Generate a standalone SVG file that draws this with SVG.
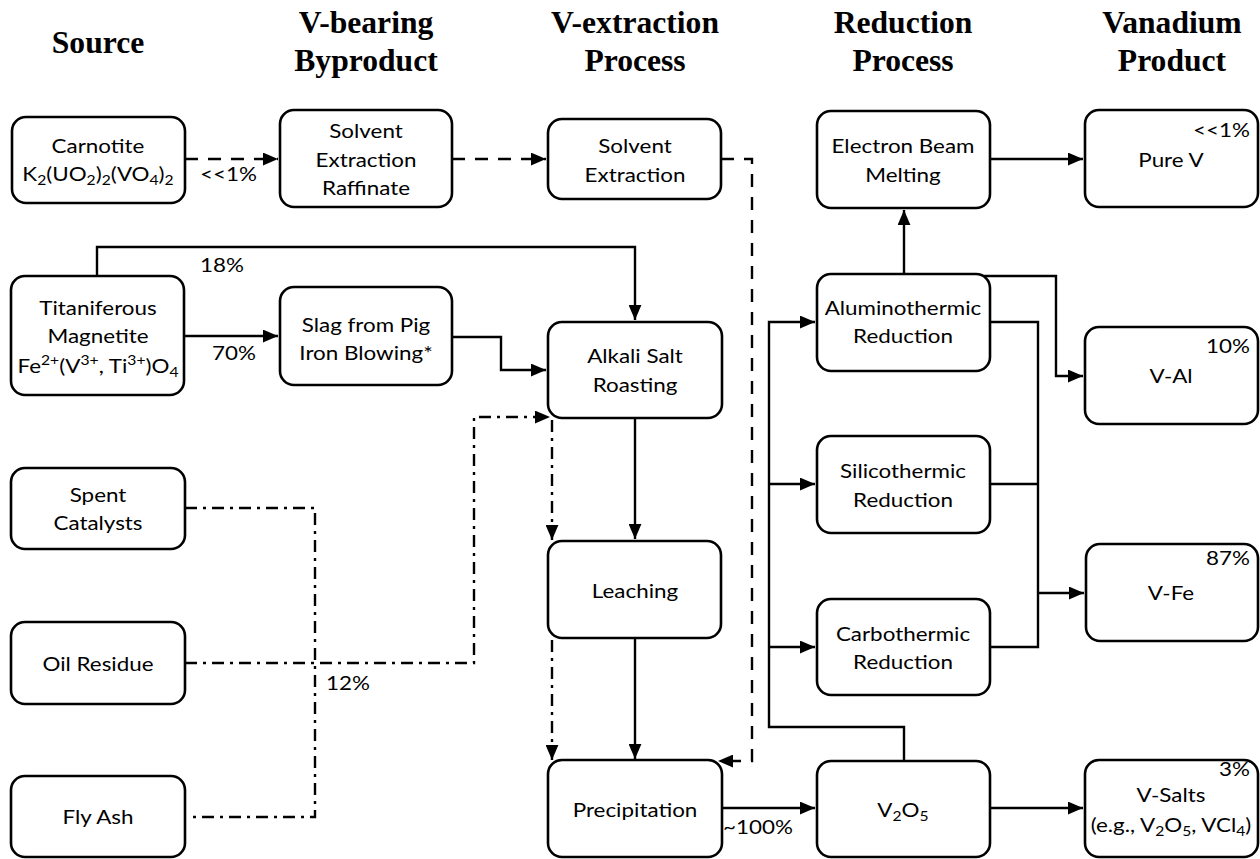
<svg xmlns="http://www.w3.org/2000/svg" width="1260" height="859" viewBox="0 0 1260 859">
<defs>
<style>
.box{fill:#fff;stroke:#000;stroke-width:2.6}
.t{font-family:Lato,"Liberation Sans",sans-serif;font-size:20px;text-anchor:middle;fill:#000}
.l{font-family:Lato,"Liberation Sans",sans-serif;font-size:20px;fill:#000}
.h{font-family:"Liberation Serif","Times New Roman",serif;font-size:31px;font-weight:bold;text-anchor:middle;fill:#000}
.c{fill:none;stroke:#000;stroke-width:2.4}
.dash{stroke-dasharray:13 10}
.dd{stroke-dasharray:12 6 3 6}
</style>
<marker id="ah" viewBox="0 0 14 12" refX="14" refY="6" markerWidth="15" markerHeight="13" markerUnits="userSpaceOnUse" orient="auto"><path d="M0,0L14,6L0,12z" fill="#000"/></marker>
</defs>
<rect width="1260" height="859" fill="#fff"/>

<g id="headers">
<text class="h" transform="translate(98,0) scale(1.02,1)"><tspan x="0" y="53">Source</tspan></text>
<text class="h" transform="translate(366,0) scale(1.02,1)"><tspan x="0" y="33">V-bearing</tspan><tspan x="0" y="71">Byproduct</tspan></text>
<text class="h" transform="translate(635,0) scale(1.02,1)"><tspan x="0" y="33">V-extraction</tspan><tspan x="0" y="71">Process</tspan></text>
<text class="h" transform="translate(903,0) scale(1.02,1)"><tspan x="0" y="33">Reduction</tspan><tspan x="0" y="71">Process</tspan></text>
<text class="h" transform="translate(1172,0) scale(1.02,1)"><tspan x="0" y="33">Vanadium</tspan><tspan x="0" y="71">Product</tspan></text>
</g>

<g id="connectors">
<path class="c dash" d="M185,159H278" marker-end="url(#ah)"/>
<path class="c dash" d="M452,159H546" marker-end="url(#ah)"/>
<path class="c dash" d="M721,159H752V761H718" marker-end="url(#ah)"/>
<path class="c" d="M97,276V247H635V320" marker-end="url(#ah)"/>
<path class="c" d="M184,336H278" marker-end="url(#ah)"/>
<path class="c" d="M452,337H501V370H546" marker-end="url(#ah)"/>
<path class="c dd" d="M185,508H315V817H189"/>
<path class="c dd" d="M185,663H474V417H550" marker-end="url(#ah)"/>
<path class="c dd" d="M552,420V540" marker-end="url(#ah)"/>
<path class="c dd" d="M552,640V760" marker-end="url(#ah)"/>
<path class="c" d="M635,418V539" marker-end="url(#ah)"/>
<path class="c" d="M635,638V759" marker-end="url(#ah)"/>
<path class="c" d="M722,808H815" marker-end="url(#ah)"/>
<path class="c" d="M990,808H1083" marker-end="url(#ah)"/>
<path class="c" d="M904,761V727H769V322H815" marker-end="url(#ah)"/>
<path class="c" d="M769,484H815" marker-end="url(#ah)"/>
<path class="c" d="M769,647H815" marker-end="url(#ah)"/>
<path class="c" d="M904,274V210" marker-end="url(#ah)"/>
<path class="c" d="M990,159H1083" marker-end="url(#ah)"/>
<path class="c" d="M983,276H1056V376H1083" marker-end="url(#ah)"/>
<path class="c" d="M990,322H1038V647H990"/>
<path class="c" d="M990,484H1038"/>
<path class="c" d="M1038,593H1084" marker-end="url(#ah)"/>
<text class="l" transform="translate(200,181) scale(1.12,1)">&lt;&lt;1%</text>
<text class="l" transform="translate(200,272) scale(1.12,1)">18%</text>
<text class="l" transform="translate(212,360) scale(1.12,1)">70%</text>
<text class="l" transform="translate(326,690) scale(1.12,1)">12%</text>
<text class="l" transform="translate(723,834) scale(1.12,1)">~100%</text>
</g>

<g id="carnotite">
<rect class="box" x="12" y="117" width="173" height="86" rx="14"/>
<text class="t" transform="translate(98,0) scale(1.12,1)"><tspan x="0" y="153">Carnotite</tspan><tspan x="0" y="181">K<tspan font-size="14" dy="4">2</tspan><tspan dy="-4">(UO</tspan><tspan font-size="14" dy="4">2</tspan><tspan dy="-4">)</tspan><tspan font-size="14" dy="4">2</tspan><tspan dy="-4">(VO</tspan><tspan font-size="14" dy="4">4</tspan><tspan dy="-4">)</tspan><tspan font-size="14" dy="4">2</tspan></tspan></text>
</g>
<g id="raffinate">
<rect class="box" x="280" y="110" width="172" height="97" rx="14"/>
<text class="t" transform="translate(366,0) scale(1.12,1)"><tspan x="0" y="138">Solvent</tspan><tspan x="0" y="167">Extraction</tspan><tspan x="0" y="195">Raffinate</tspan></text>
</g>
<g id="solvent-extraction">
<rect class="box" x="548" y="119" width="173" height="80" rx="14"/>
<text class="t" transform="translate(635,0) scale(1.12,1)"><tspan x="0" y="153">Solvent</tspan><tspan x="0" y="182">Extraction</tspan></text>
</g>
<g id="titaniferous">
<rect class="box" x="11" y="276" width="173" height="119" rx="14"/>
<text class="t" transform="translate(98,0) scale(1.12,1)"><tspan x="0" y="315">Titaniferous</tspan><tspan x="0" y="343">Magnetite</tspan><tspan x="0" y="373">Fe<tspan font-size="14" dy="-8">2+</tspan><tspan dy="8">(V</tspan><tspan font-size="14" dy="-8">3+</tspan><tspan dy="8">, Ti</tspan><tspan font-size="14" dy="-8">3+</tspan><tspan dy="8">)O</tspan><tspan font-size="14" dy="4">4</tspan></tspan></text>
</g>
<g id="slag">
<rect class="box" x="280" y="287" width="172" height="98" rx="14"/>
<text class="t" transform="translate(366,0) scale(1.12,1)"><tspan x="0" y="332">Slag from Pig</tspan><tspan x="0" y="360">Iron Blowing*</tspan></text>
</g>
<g id="alkali">
<rect class="box" x="548" y="322" width="174" height="96" rx="14"/>
<text class="t" transform="translate(635,0) scale(1.12,1)"><tspan x="0" y="363">Alkali Salt</tspan><tspan x="0" y="392">Roasting</tspan></text>
</g>
<g id="spent">
<rect class="box" x="11" y="468" width="174" height="81" rx="14"/>
<text class="t" transform="translate(98,0) scale(1.12,1)"><tspan x="0" y="502">Spent</tspan><tspan x="0" y="530">Catalysts</tspan></text>
</g>
<g id="oil">
<rect class="box" x="11" y="622" width="174" height="82" rx="14"/>
<text class="t" transform="translate(98,0) scale(1.12,1)"><tspan x="0" y="671">Oil Residue</tspan></text>
</g>
<g id="flyash">
<rect class="box" x="11" y="776" width="174" height="81" rx="14"/>
<text class="t" transform="translate(98,0) scale(1.12,1)"><tspan x="0" y="824">Fly Ash</tspan></text>
</g>
<g id="leaching">
<rect class="box" x="548" y="541" width="173" height="97" rx="14"/>
<text class="t" transform="translate(635,0) scale(1.12,1)"><tspan x="0" y="598">Leaching</tspan></text>
</g>
<g id="precipitation">
<rect class="box" x="548" y="760" width="174" height="97" rx="14"/>
<text class="t" transform="translate(635,0) scale(1.12,1)"><tspan x="0" y="817">Precipitation</tspan></text>
</g>
<g id="ebm">
<rect class="box" x="817" y="111" width="173" height="97" rx="14"/>
<text class="t" transform="translate(903,0) scale(1.12,1)"><tspan x="0" y="153">Electron Beam</tspan><tspan x="0" y="182">Melting</tspan></text>
</g>
<g id="purev">
<rect class="box" x="1085" y="110" width="173" height="97" rx="14"/>
<text class="t" transform="translate(1171,0) scale(1.12,1)"><tspan x="0" y="167">Pure V</tspan></text>
<text class="l" text-anchor="end" transform="translate(1250,137) scale(1.12,1)">&lt;&lt;1%</text>
</g>
<g id="alumino">
<rect class="box" x="817" y="274" width="173" height="97" rx="14"/>
<text class="t" transform="translate(903,0) scale(1.12,1)"><tspan x="0" y="315">Aluminothermic</tspan><tspan x="0" y="343">Reduction</tspan></text>
</g>
<g id="val">
<rect class="box" x="1085" y="327" width="173" height="97" rx="14"/>
<text class="t" transform="translate(1171,0) scale(1.12,1)"><tspan x="0" y="383">V-Al</tspan></text>
<text class="l" text-anchor="end" transform="translate(1250,353) scale(1.12,1)">10%</text>
</g>
<g id="silico">
<rect class="box" x="817" y="436" width="173" height="97" rx="14"/>
<text class="t" transform="translate(903,0) scale(1.12,1)"><tspan x="0" y="478">Silicothermic</tspan><tspan x="0" y="507">Reduction</tspan></text>
</g>
<g id="carbo">
<rect class="box" x="817" y="599" width="173" height="96" rx="14"/>
<text class="t" transform="translate(903,0) scale(1.12,1)"><tspan x="0" y="641">Carbothermic</tspan><tspan x="0" y="669">Reduction</tspan></text>
</g>
<g id="vfe">
<rect class="box" x="1086" y="544" width="172" height="97" rx="14"/>
<text class="t" transform="translate(1171,0) scale(1.12,1)"><tspan x="0" y="600">V-Fe</tspan></text>
<text class="l" text-anchor="end" transform="translate(1250,565) scale(1.12,1)">87%</text>
</g>
<g id="v2o5">
<rect class="box" x="817" y="761" width="173" height="96" rx="14"/>
<text class="t" transform="translate(903,0) scale(1.12,1)"><tspan x="0" y="817">V<tspan font-size="14" dy="4">2</tspan><tspan dy="-4">O</tspan><tspan font-size="14" dy="4">5</tspan></tspan></text>
</g>
<g id="vsalts">
<rect class="box" x="1085" y="760" width="173" height="97" rx="14"/>
<text class="t" transform="translate(1171,0) scale(1.12,1)"><tspan x="0" y="802">V-Salts</tspan><tspan x="0" y="832">(e.g., V<tspan font-size="14" dy="4">2</tspan><tspan dy="-4">O</tspan><tspan font-size="14" dy="4">5</tspan><tspan dy="-4">, VCl</tspan><tspan font-size="14" dy="4">4</tspan><tspan dy="-4">)</tspan></tspan></text>
<text class="l" text-anchor="end" transform="translate(1250,776) scale(1.12,1)">3%</text>
</g>
</svg>
